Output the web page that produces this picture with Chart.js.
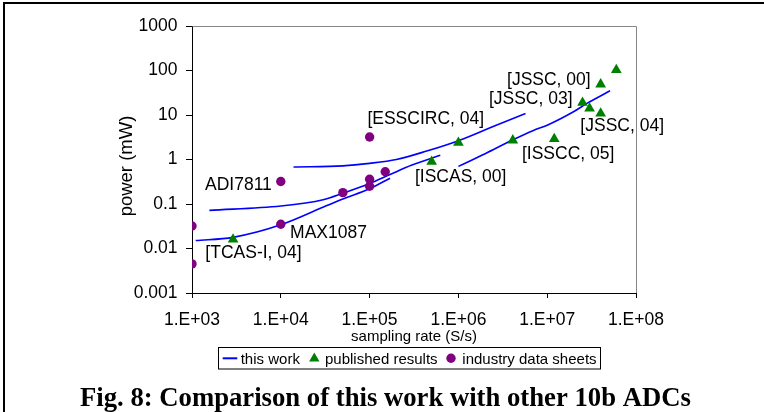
<!DOCTYPE html>
<html>
<head>
<meta charset="utf-8">
<script src="https://cdn.jsdelivr.net/npm/chart.js@4.4.1/dist/chart.umd.min.js"></script>
<style>
	html, body { margin: 0; padding: 0; background: #fff; }
	canvas { display: block; }
</style>
</head>
<body>
<canvas id="adcChart" width="764" height="412"></canvas>
<script>
	// Axes (sampling rate in S/s, power in mW).
	var xTickValues = [1e3, 1e4, 1e5, 1e6, 1e7, 1e8];
	var xTickLabels = ['1.E+03', '1.E+04', '1.E+05', '1.E+06', '1.E+07', '1.E+08'];
	var yTickValues = [0.001, 0.01, 0.1, 1, 10, 100, 1000];
	var yTickLabels = ['0.001', '0.01', '0.1', '1', '10', '100', '1000'];

	// This work - four measured sweeps.
	var sweep1Rate = [1.39e4, 5e4, 1e5, 2e5, 4.4e5, 1e6, 2.5e6, 5.7e6];
	var sweep1Power = [0.68, 0.72, 0.82, 1.0, 1.55, 2.65, 5.6, 10.8];
	var sweep2Rate = [1.57e3, 1e4, 3e4, 5e4, 1e5, 1.7e5, 3e5, 6.25e5];
	var sweep2Power = [0.072, 0.09, 0.125, 0.175, 0.29, 0.46, 0.75, 1.24];
	var sweep3Rate = [1.1e3, 2.9e3, 1e4, 3.3e4, 5e4, 1e5, 1.7e5];
	var sweep3Power = [0.0151, 0.0178, 0.034, 0.092, 0.13, 0.22, 0.38];
	var sweep4Rate = [1e6, 2e6, 4e6, 7e6, 1e7, 2e7, 2.8e7, 5.1e7];
	var sweep4Power = [0.70, 1.35, 2.7, 4.5, 5.9, 12, 18.2, 35];

	// Published results.
	var publishedRate = [2.9e3, 5e5, 1e6, 4.1e6, 1.2e7, 2.5e7, 3.0e7, 4.0e7, 4.0e7, 6.0e7];
	var publishedPower = [0.016, 0.89, 2.4, 2.7, 2.9, 19, 14, 49, 10.8, 103];
	var publishedLabels = ['[TCAS-I, 04]', '[ISCAS, 00]', '[ESSCIRC, 04]', '', '[ISSCC, 05]', '[JSSC, 03]', '', '[JSSC, 00]', '[JSSC, 04]', ''];

	// Industry data sheets.
	var industryRate = [1e3, 1e3, 1e4, 1e4, 5e4, 1e5, 1e5, 1.5e5, 1e5];
	var industryPower = [0.032, 0.0045, 0.32, 0.035, 0.18, 0.36, 0.25, 0.53, 3.2];
	var industryLabels = ['', '', 'ADI7811', 'MAX1087', '', '', '', '', ''];

	// where each label sits relative to its marker: dx, dy (baseline), align
	var labelPlacement = {
		'[TCAS-I, 04]': [-27.7, 18.3, 'left'],
		'[ISCAS, 00]': [-16.7, 20.4, 'left'],
		'[ESSCIRC, 04]': [-91, -18.4, 'left'],
		'[ISSCC, 05]': [-32.3, 20.5, 'left'],
		'[JSSC, 03]': [-10, 1.8, 'right'],
		'[JSSC, 00]': [-10, 0.7, 'right'],
		'[JSSC, 04]': [-20.3, 17.7, 'left'],
		'ADI7811': [-9, 8, 'right'],
		'MAX1087': [9.3, 13.6, 'left']
	};

	var SANS = '"Liberation Sans", Arial, sans-serif';
	var SERIF = '"Liberation Serif", "Times New Roman", serif';
	var BLUE = '#0000ff', GREEN = '#008000', PURPLE = '#800080';

	function toPoints(xs, ys) {
		return xs.map(function(x, i) { return { x: x, y: ys[i] }; });
	}

	function sweep(xs, ys) {
		return {
			data: toPoints(xs, ys),
			showLine: true,
			borderColor: BLUE,
			borderWidth: 1.6,
			pointRadius: 0,
			cubicInterpolationMode: 'monotone',
			order: 1
		};
	}

	function drawLabels(ctx, meta, labels) {
		labels.forEach(function(text, i) {
			if (!text) return;
			var p = meta.data[i], place = labelPlacement[text];
			ctx.textAlign = place[2];
			ctx.fillText(text, p.x + place[0], p.y + place[1]);
		});
	}

	var figureDecor = {
		id: 'figureDecor',
		afterDraw: function(chart) {
			var ctx = chart.ctx, a = chart.chartArea;
			ctx.save();

			// page frame (left + top rule)
			ctx.fillStyle = '#000';
			ctx.fillRect(3, 2, 761, 2);
			ctx.fillRect(3, 2, 2, 410);

			// plot area border, top and right
			ctx.strokeStyle = '#868686';
			ctx.lineWidth = 1;
			ctx.beginPath();
			ctx.moveTo(Math.round(a.left) + 0.5, Math.round(a.top) + 0.5);
			ctx.lineTo(Math.round(a.right) + 0.5, Math.round(a.top) + 0.5);
			ctx.lineTo(Math.round(a.right) + 0.5, Math.round(a.bottom));
			ctx.stroke();

			// marker labels
			ctx.fillStyle = '#000';
			ctx.textBaseline = 'alphabetic';
			ctx.font = '17.5px ' + SANS;
			drawLabels(ctx, chart.getDatasetMeta(0), industryLabels);
			drawLabels(ctx, chart.getDatasetMeta(1), publishedLabels);

			// axis titles
			ctx.font = '15px ' + SANS;
			ctx.textAlign = 'center';
			ctx.fillText('sampling rate (S/s)', (a.left + a.right) / 2, 341.4);
			ctx.save();
			ctx.translate(131.5, 166);
			ctx.rotate(-Math.PI / 2);
			ctx.font = '18.5px ' + SANS;
			ctx.fillText('power (mW)', 0, 0);
			ctx.restore();

			// legend
			ctx.strokeStyle = '#000';
			ctx.strokeRect(218.5, 347.5, 382, 21.5);
			ctx.strokeStyle = BLUE;
			ctx.lineWidth = 2;
			ctx.beginPath();
			ctx.moveTo(222.7, 358.3);
			ctx.lineTo(237.3, 358.3);
			ctx.stroke();
			ctx.fillStyle = GREEN;
			ctx.beginPath();
			ctx.moveTo(314.3, 352.5);
			ctx.lineTo(319.5, 361.5);
			ctx.lineTo(309.1, 361.5);
			ctx.closePath();
			ctx.fill();
			ctx.fillStyle = PURPLE;
			ctx.beginPath();
			ctx.arc(451, 358.3, 4.7, 0, Math.PI * 2);
			ctx.fill();
			ctx.fillStyle = '#000';
			ctx.font = '15px ' + SANS;
			ctx.textAlign = 'left';
			ctx.fillText('this work', 240.7, 364);
			ctx.fillText('published results', 325, 364);
			ctx.fillText('industry data sheets', 462.3, 364);

			// figure caption
			ctx.font = 'bold 26.7px ' + SERIF;
			ctx.textAlign = 'left';
			ctx.fillText('Fig. 8: Comparison of this work with other 10b ADCs', 80, 405.7);

			ctx.restore();
		}
	};

	var chart = new Chart(document.getElementById('adcChart'), {
		type: 'scatter',
		data: {
			datasets: [
				{
					data: toPoints(industryRate, industryPower),
					pointStyle: 'circle',
					pointRadius: 4.7,
					pointBorderWidth: 0,
					backgroundColor: PURPLE,
					borderColor: PURPLE,
					order: 0
				},
				{
					data: toPoints(publishedRate, publishedPower),
					pointStyle: 'triangle',
					pointRadius: 6.2,
					pointBorderWidth: 0,
					backgroundColor: GREEN,
					borderColor: GREEN,
					order: 0
				},
				sweep(sweep1Rate, sweep1Power),
				sweep(sweep2Rate, sweep2Power),
				sweep(sweep3Rate, sweep3Power),
				sweep(sweep4Rate, sweep4Power)
			]
		},
		options: {
			responsive: false,
			animation: false,
			devicePixelRatio: 1,
			layout: { padding: { left: 0, top: 26, right: 128, bottom: 79 } },
			plugins: {
				legend: { display: false },
				tooltip: { enabled: false },
				title: { display: false }
			},
			scales: {
				x: {
					type: 'logarithmic',
					min: 1e3,
					max: 1e8,
					afterFit: function(s) { s.height = 40; },
					afterBuildTicks: function(s) {
						s.ticks = xTickValues.map(function(v) { return { value: v }; });
					},
					ticks: {
						callback: function(v) { return xTickLabels[xTickValues.indexOf(v)]; },
						font: { family: SANS, size: 17.5 },
						color: '#000',
						padding: 12,
						maxRotation: 0,
						autoSkip: false
					},
					grid: { display: true, drawOnChartArea: false, drawTicks: true, tickLength: 5, color: '#000' },
					border: { display: true, color: '#000', width: 1 }
				},
				y: {
					type: 'logarithmic',
					min: 0.001,
					max: 1000,
					afterFit: function(s) { s.width = 192; },
					afterBuildTicks: function(s) {
						s.ticks = yTickValues.map(function(v) { return { value: v }; });
					},
					ticks: {
						callback: function(v) { return yTickLabels[yTickValues.indexOf(v)]; },
						font: { family: SANS, size: 17.5 },
						color: '#000',
						padding: 8.5,
						autoSkip: false
					},
					grid: { display: true, drawOnChartArea: false, drawTicks: true, tickLength: 6, color: '#000' },
					border: { display: true, color: '#000', width: 1 }
				}
			}
		},
		plugins: [figureDecor]
	});
</script>
</body>
</html>
